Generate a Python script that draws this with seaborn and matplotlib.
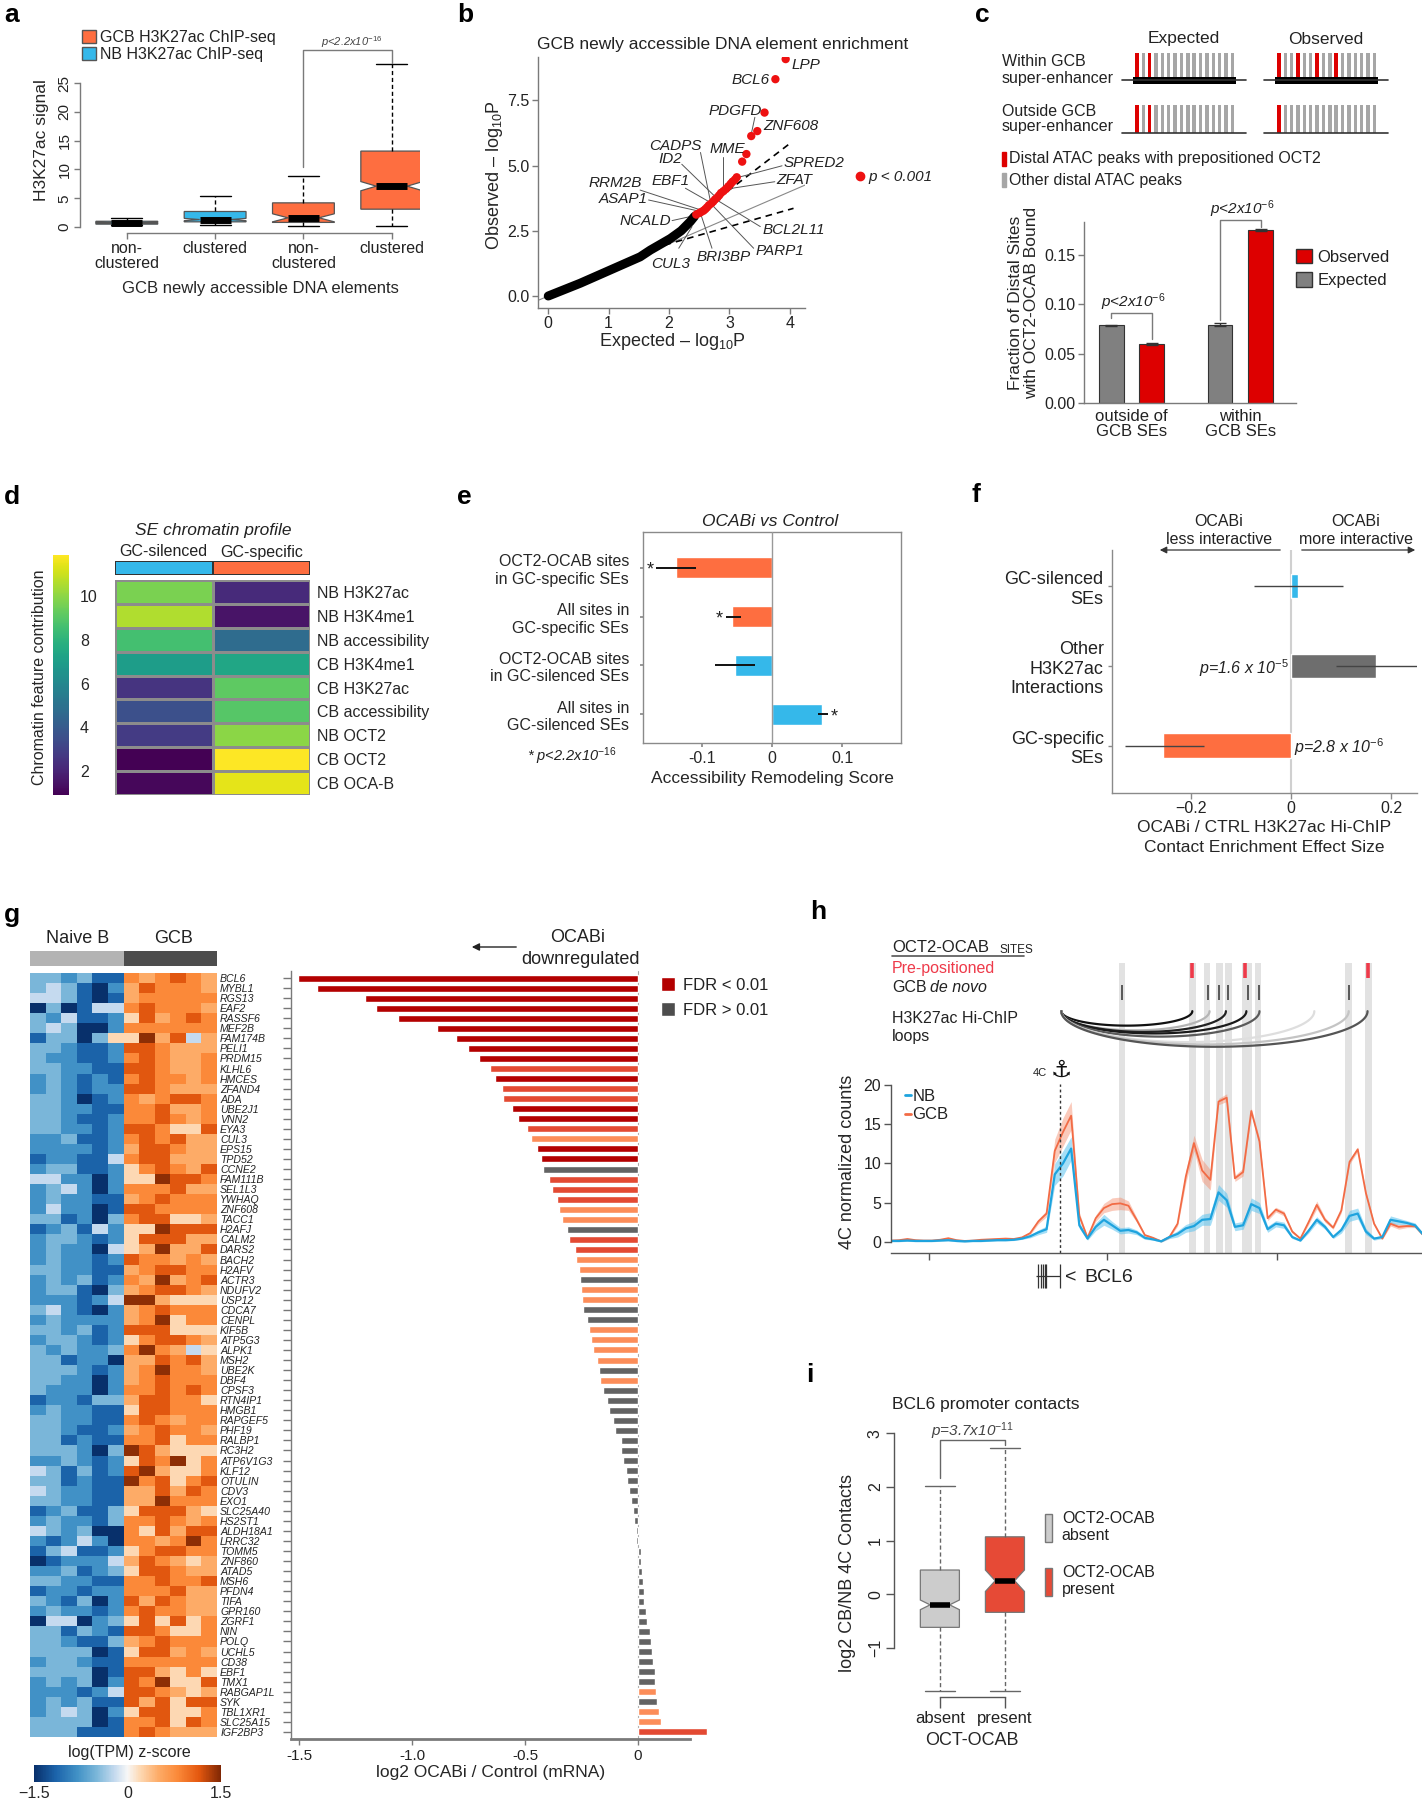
import numpy as np
import pandas as pd
import seaborn as sns
import matplotlib.pyplot as plt
from matplotlib.colors import ListedColormap, LinearSegmentedColormap
from matplotlib.patches import Patch
from matplotlib.lines import Line2D

# ---------------- data ----------------
# a: H3K27ac signal at GCB newly accessible elements (box summaries)
a_ticks = ['non-\nclustered', 'clustered', 'non-\nclustered', 'clustered']
a_cell = ['NB', 'NB', 'GCB', 'GCB']
a_whislo = [0.4, 0.3, 0.2, 0.2]
a_q1 = [0.5, 0.9, 0.8, 3.1]
a_med = [0.75, 1.3, 1.6, 7.1]
a_q3 = [1.0, 2.7, 4.2, 13.2]
a_whishi = [1.5, 5.4, 8.9, 28.3]
a_cilo = [0.7, 1.1, 0.9, 6.3]
a_cihi = [0.8, 1.5, 2.3, 7.9]

# b: QQ plot of enrichment p-values
b_exp_bulk = [0.0, 0.53, 1.03, 1.52, 1.69, 2.02, 2.2, 2.35, 2.42]
b_obs_bulk = [0.0, 0.49, 1.0, 1.5, 1.76, 2.2, 2.5, 2.85, 3.05]
b_exp_sig = [2.45, 2.5, 2.53, 2.57, 2.6, 2.63, 2.66, 2.7, 2.73, 2.76, 2.8, 2.83, 2.86,
             2.9, 2.94, 2.98, 3.02, 3.05, 3.09, 3.12, 3.21, 3.28, 3.36, 3.46, 3.58, 3.76, 3.93]
b_obs_sig = [3.12, 3.18, 3.22, 3.27, 3.33, 3.4, 3.48, 3.55, 3.62, 3.7, 3.78, 3.86, 3.95,
             4.02, 4.1, 4.2, 4.3, 4.38, 4.46, 4.55, 5.15, 5.44, 6.13, 6.32, 7.03, 8.31, 9.08]
b_band_x_hi = [1.74, 4.03]
b_band_y_hi = [1.83, 5.9]
b_band_x_lo = [1.74, 4.06]
b_band_y_lo = [1.83, 3.36]

# c: fraction of distal sites bound by OCT2-OCAB
c_region = ['outside of\nGCB SEs', 'outside of\nGCB SEs', 'within\nGCB SEs', 'within\nGCB SEs']
c_kind = ['Expected', 'Observed', 'Expected', 'Observed']
c_frac = [0.079, 0.0595, 0.0795, 0.175]
c_err = [0.0005, 0.0012, 0.0018, 0.0012]
c_n_peaks = 16
c_red_peaks = {('within', 'Expected'): [0, 2], ('within', 'Observed'): [0, 3, 6, 9],
               ('outside', 'Expected'): [0, 2], ('outside', 'Observed'): [0]}

# d: SE chromatin profile
d_features = ['NB H3K27ac', 'NB H3K4me1', 'NB accessibility', 'CB H3K4me1', 'CB H3K27ac',
              'CB accessibility', 'NB OCT2', 'CB OCT2', 'CB OCA-B']
d_silenced = [9.7, 10.6, 8.6, 7.0, 2.55, 3.6, 2.8, 0.9, 1.1]
d_specific = [2.2, 1.5, 4.75, 7.4, 9.15, 9.0, 10.0, 11.9, 11.46]

# e: accessibility remodeling score
e_labels = ['OCT2-OCAB sites\nin GC-specific SEs', 'All sites in\nGC-specific SEs',
            'OCT2-OCAB sites\nin GC-silenced SEs', 'All sites in\nGC-silenced SEs']
e_group = ['GC-specific', 'GC-specific', 'GC-silenced', 'GC-silenced']
e_score = [-0.137, -0.057, -0.053, 0.072]
e_lo = [-0.165, -0.066, -0.082, 0.065]
e_hi = [-0.109, -0.044, -0.024, 0.080]
e_signif = [True, True, False, True]

# f: Hi-ChIP contact enrichment effect size
f_labels = ['GC-silenced\nSEs', 'Other\nH3K27ac\nInteractions', 'GC-specific\nSEs']
f_effect = [0.013, 0.17, -0.255]
f_lo = [-0.073, 0.089, -0.331]
f_hi = [0.103, 0.26, -0.174]
f_pval = ['', 'p=1.6 x 10$^{-5}$', 'p=2.8 x 10$^{-6}$']

# g: OCABi downregulated genes
g_genes = ['BCL6', 'MYBL1', 'RGS13', 'EAF2', 'RASSF6', 'MEF2B', 'FAM174B', 'PELI1', 'PRDM15',
           'KLHL6', 'HMCES', 'ZFAND4', 'ADA', 'UBE2J1', 'VNN2', 'EYA3', 'CUL3', 'EPS15', 'TPD52',
           'CCNE2', 'FAM111B', 'SEL1L3', 'YWHAQ', 'ZNF608', 'TACC1', 'H2AFJ', 'CALM2', 'DARS2',
           'BACH2', 'H2AFV', 'ACTR3', 'NDUFV2', 'USP12', 'CDCA7', 'CENPL', 'KIF5B', 'ATP5G3',
           'ALPK1', 'MSH2', 'UBE2K', 'DBF4', 'CPSF3', 'RTN4IP1', 'HMGB1', 'RAPGEF5', 'PHF19',
           'RALBP1', 'RC3H2', 'ATP6V1G3', 'KLF12', 'OTULIN', 'CDV3', 'EXO1', 'SLC25A40', 'HS2ST1',
           'ALDH18A1', 'LRRC32', 'TOMM5', 'ZNF860', 'ATAD5', 'MSH6', 'PFDN4', 'TIFA', 'GPR160',
           'ZGRF1', 'NIN', 'POLQ', 'UCHL5', 'CD38', 'EBF1', 'TMX1', 'RABGAP1L', 'SYK', 'TBL1XR1',
           'SLC25A15', 'IGF2BP3']
g_lfc = [-1.504, -1.423, -1.208, -1.161, -1.061, -0.892, -0.804, -0.753, -0.704, -0.657,
         -0.631, -0.600, -0.596, -0.559, -0.530, -0.490, -0.473, -0.447, -0.429, -0.418,
         -0.394, -0.382, -0.357, -0.351, -0.337, -0.314, -0.304, -0.279, -0.276, -0.259,
         -0.255, -0.253, -0.247, -0.243, -0.227, -0.218, -0.206, -0.198, -0.179, -0.173,
         -0.169, -0.153, -0.135, -0.126, -0.112, -0.102, -0.075, -0.073, -0.065, -0.053,
         -0.047, -0.037, -0.032, -0.022, -0.018, -0.010, -0.006, 0.015, 0.016, 0.020,
         0.024, 0.026, 0.028, 0.037, 0.039, 0.053, 0.059, 0.063, 0.067, 0.076,
         0.078, 0.082, 0.084, 0.094, 0.104, 0.308]
# d = FDR < 0.01 (strong), m / l = FDR < 0.01 (weaker shades), g = FDR > 0.01
g_fdr = 'dddddddddmdmmddmlddgmmmllgmmllgllggllllglgggggggggggggggggggggggggggggglgllm'
# log(TPM) z-score levels per row: 6 naive B + 6 GCB samples (0 = -1.5 ... 9 = +1.5)
g_hm_rows = ['332311767876', '343102687776', '443101677777', '030144787776', '324112586787',
             '343002777777', '133035596846', '332112887666', '322112787667', '332211887667',
             '232121787767', '232122887666', '332012767887', '332211778667', '332112778767',
             '332212887558', '223112787866', '222212688766', '122114788666', '233112578768',
             '442202559887', '234202777866', '232211678777', '242201887777', '331203788556',
             '123142559888', '233212588866', '232204569668', '232212877676', '332211678877',
             '232312769678', '233103678876', '222124996555', '342102678777', '232222679577',
             '332312888555', '233212578876', '323223797645', '331220668786', '333212679776',
             '332202678777', '322202778787', '122133688775', '232211588777', '332211787677',
             '332112678776', '331211778577', '333203986555', '223212587957', '431312896557',
             '331211978578', '432211668687', '332211669777', '123113588865', '232213778767',
             '432300758688', '212420776797', '134112578877', '012224687656', '223123588766',
             '332211778778', '122122777866', '321302868766', '232212787766', '044023585857',
             '331321887557', '332113678777', '333301588676', '233211777777', '333301886575',
             '232302879558', '222124887656', '232311868588', '234302588557', '333301778587',
             '333111787666']
g_levels = [-1.5, -1.15, -0.8, -0.5, -0.2, 0.2, 0.5, 0.8, 1.15, 1.45]

# h: 4C-seq around BCL6 (bins), GCB and NB normalized counts with CI half-widths
h_bins = list(range(66))
h_gcb = [0.15, 0.2, 0.35, 0.2, 0.15, 0.15, 0.25, 0.45, 0.2, 0.1, 0.15, 0.25, 0.3, 0.35,
         0.4, 0.35, 0.55, 1.1, 2.6, 3.6, 11.6, 14.0, 16.1, 3.3, 0.5, 3.0, 4.3, 4.8, 4.9,
         4.6, 2.8, 0.85, 0.5, 0.05, 0.6, 2.3, 8.3, 12.6, 9.1, 7.9, 17.9, 18.4, 8.1, 8.9,
         16.7, 12.8, 3.0, 4.1, 3.6, 1.3, 0.4, 2.5, 4.7, 2.8, 1.8, 4.0, 10.2, 11.8, 6.2,
         2.3, 0.4, 2.3, 1.9, 2.0, 2.0, 0.85]
h_gcb_err = [0.1] * 17 + [0.2, 0.3, 0.4, 1.5, 1.8, 1.8, 0.4, 0.15, 0.4, 0.6, 0.8, 0.8,
                          0.6, 0.3, 0.15, 0.1, 0.1, 0.15, 0.3, 0.8, 1.0, 1.4, 1.3, 0.4,
                          0.5, 0.4, 0.5, 0.4, 0.4, 0.3, 0.3, 0.3, 0.2, 0.1, 0.3, 0.5, 0.3,
                          0.2, 0.3, 0.3, 0.3, 0.3, 0.2, 0.1, 0.3, 0.3, 0.2, 0.2, 0.2]
h_nb = [0.1, 0.1, 0.15, 0.1, 0.1, 0.1, 0.15, 0.2, 0.1, 0.05, 0.1, 0.1, 0.15, 0.2,
        0.2, 0.25, 0.4, 0.7, 1.2, 1.6, 8.6, 10.0, 11.9, 2.1, 0.4, 1.9, 2.8, 2.1, 1.4,
        1.5, 1.2, 0.5, 0.3, 0.05, 0.6, 1.0, 1.7, 2.0, 2.8, 2.9, 6.3, 5.3, 1.9, 2.1,
        4.8, 4.3, 1.6, 2.3, 2.1, 0.6, 0.15, 1.4, 2.8, 1.9, 0.6, 1.5, 3.3, 3.6, 1.3,
        0.4, 0.6, 2.8, 2.6, 2.4, 2.1, 0.9]
h_nb_err = [0.1] * 17 + [0.2, 0.3, 0.4, 1.4, 1.6, 1.5, 0.4, 0.2, 0.5, 0.7, 0.5, 0.4,
                         0.4, 0.3, 0.2, 0.1, 0.1, 0.2, 0.4, 0.5, 0.6, 0.7, 0.8, 1.0,
                         0.9, 0.5, 0.5, 0.8, 0.7, 0.4, 0.4, 0.4, 0.2, 0.1, 0.3, 0.4, 0.3,
                         0.2, 0.4, 0.7, 0.7, 0.4, 0.2, 0.2, 0.5, 0.4, 0.3, 0.3, 0.2]
h_anchor = 20.63
h_ticks = [4.66, 26.36, 47.14]
h_stripes = [28.2, 36.84, 38.59, 40.15, 41.21, 43.45, 44.81, 55.87, 58.3]
h_stripe_w = [0.83, 0.83, 0.83, 0.83, 0.83, 1.17, 0.83, 0.83, 0.83]
h_prepositioned = [36.8, 43.2, 58.3]
h_denovo = [28.25, 38.7, 40.05, 41.1, 43.6, 44.9, 55.9]
h_loop_end = [36.8, 38.9, 40.9, 43.4, 45.0, 51.7, 55.9, 58.2]
h_loop_bottom = [27.6, 27.0, 26.8, 26.6, 26.2, 25.5, 25.2, 24.9]
h_loop_shade = ['#111111', '#b5b5b5', '#222222', '#1a1a1a', '#5a5a5a', '#dedede', '#c4c4c4', '#555555']
h_bcl6_exons = [18.0, 18.3, 18.55, 18.75, 18.95]

# i: BCL6 promoter contacts
i_groups = ['absent', 'present']
i_whislo = [-1.81, -1.81]
i_q1 = [-0.62, -0.34]
i_med = [-0.2, 0.25]
i_q3 = [0.45, 1.07]
i_whishi = [2.02, 2.72]
i_cilo = [-0.29, 0.05]
i_cihi = [-0.11, 0.45]

# ---------------- style ----------------
sns.set_theme(style='ticks')
plt.rcParams['font.family'] = ['Liberation Sans', 'DejaVu Sans']
plt.rcParams['mathtext.fontset'] = 'custom'
plt.rcParams['mathtext.rm'] = 'Liberation Sans'
plt.rcParams['mathtext.it'] = 'Liberation Sans:italic'
plt.rcParams['text.color'] = '#222222'

BLUE = '#35b8ea'
ORANGE = '#fe6e40'
GRAY_AX = '#7a7a7a'

W, H = 1422, 1800
fig = plt.figure(figsize=(W / 100, H / 100), dpi=100)


def add_ax(x0, y0, x1, y1):
    return fig.add_axes([x0 / W, 1 - y1 / H, (x1 - x0) / W, (y1 - y0) / H])


def fx(x):
    return x / W


def fy(y):
    return 1 - y / H


def ftext(x, y, s, **kw):
    kw.setdefault('ha', 'center')
    kw.setdefault('va', 'center')
    fig.text(fx(x), fy(y), s, **kw)


def panel(x, y, s):
    ftext(x, y, s, fontsize=19, fontweight='bold', ha='left', color='black')


def ylab(ax, x, y, nlines=1):
    # x, y: centre of the rotated label in pixels
    ax.yaxis.set_label_coords(fx(x + 9 * nlines), fy(y), transform=fig.transFigure)


def xlab(ax, x, y, nlines=1):
    ax.xaxis.set_label_coords(fx(x), fy(y - 9 * nlines), transform=fig.transFigure)


def open_axes(ax, color=GRAY_AX, size=11):
    for s in ['top', 'right']:
        ax.spines[s].set_visible(False)
    for s in ['left', 'bottom']:
        ax.spines[s].set_color(color)
        ax.spines[s].set_linewidth(1)
    ax.tick_params(color=color, length=4, width=1, labelsize=size, labelcolor='#222222', pad=2)


# ---------------- a ----------------
panel(4, 15, 'a')
ax = add_ax(80, 55, 420, 233)
a_stats = [dict(med=m, q1=q1, q3=q3, whislo=lo, whishi=hi, cilo=cl, cihi=ch, fliers=[])
           for m, q1, q3, lo, hi, cl, ch in zip(a_med, a_q1, a_q3, a_whislo, a_whishi, a_cilo, a_cihi)]
bp = ax.bxp(a_stats, positions=range(4), widths=0.7, shownotches=True, patch_artist=True, showfliers=False,
            boxprops=dict(edgecolor='#555555', linewidth=0.9),
            whiskerprops=dict(linestyle=(0, (3, 2)), color='black', linewidth=1),
            capprops=dict(color='black', linewidth=1),
            medianprops=dict(color='black', linewidth=5, solid_capstyle='butt'))
for patch, cell in zip(bp['boxes'], a_cell):
    patch.set_facecolor(ORANGE if cell == 'GCB' else BLUE)
ax.set_xlim(-0.53, 3.32)
ax.set_ylim(-1.04, 29.9)
open_axes(ax)
ax.spines['left'].set_bounds(0, 25)
ax.spines['bottom'].set_bounds(0, 3)
ax.set_yticks([0, 5, 10, 15, 20, 25])
ax.tick_params(axis='y', labelrotation=90)
for lab in ax.get_yticklabels():
    lab.set_va('center')
ax.set_xticks(range(4))
ax.set_xticklabels(a_ticks, fontsize=11.5, linespacing=1.0)
ax.set_ylabel('H3K27ac signal', fontsize=12.5)
ylab(ax, 40, 140)
ax.set_xlabel('GCB newly accessible DNA elements', fontsize=12)
xlab(ax, 260, 290)
ax.plot([2, 2, 3, 3], [10.4, 30.7, 30.7, 28.5], color=GRAY_AX, lw=1, clip_on=False)
ftext(352, 42, 'p<2.2x10$^{-16}$', fontsize=8, style='italic', color='#444444')
ax.legend(handles=[Patch(fc=ORANGE, ec='#555555'), Patch(fc=BLUE, ec='#555555')],
          labels=['GCB H3K27ac ChIP-seq', 'NB H3K27ac ChIP-seq'], loc='upper left',
          bbox_to_anchor=(fx(82), fy(30)), bbox_transform=fig.transFigure, frameon=False,
          fontsize=11.5, handlelength=0.85, handleheight=0.85, handletextpad=0.3,
          labelspacing=0.15, borderpad=0, borderaxespad=0)

# ---------------- b ----------------
panel(457, 15, 'b')
ax = add_ax(538, 57, 805, 308)
ax.axline((0, 0), slope=1, color='#888888', lw=0.8, zorder=1)
ax.plot(b_band_x_hi, b_band_y_hi, color='black', ls=(0, (4, 3)), lw=1.2)
ax.plot(b_band_x_lo, b_band_y_lo, color='black', ls=(0, (4, 3)), lw=1.2)
sns.lineplot(x=b_exp_bulk, y=b_obs_bulk, sort=False, color='black', lw=6.5, ax=ax,
             solid_capstyle='round', zorder=3)
sns.scatterplot(x=b_exp_sig, y=b_obs_sig, color='#ee1111', s=36, edgecolor='none', ax=ax, zorder=4)
ax.set_xlim(-0.17, 4.25)
ax.set_ylim(-0.46, 9.16)
open_axes(ax, size=11.5)
ax.set_yticks([0, 2.5, 5, 7.5])
ax.set_yticklabels(['0.0', '2.5', '5.0', '7.5'])
ax.set_xticks([0, 1, 2, 3, 4])
ax.set_ylabel('Observed – log$_{10}$P', fontsize=13)
ylab(ax, 496, 175)
ax.set_xlabel('Expected – log$_{10}$P', fontsize=13)
xlab(ax, 672, 340)
ftext(723, 45, 'GCB newly accessible DNA element enrichment', fontsize=12.5)
b_annot = [('LPP', 4.03, 8.85, 'left', None), ('BCL6', 3.66, 8.28, 'right', None),
           ('PDGFD', 3.53, 7.09, 'right', (3.42, 6.85, 3.36, 6.2)),
           ('ZNF608', 3.56, 6.51, 'left', None),
           ('CADPS', 2.10, 5.75, 'center', (2.52, 5.5, 2.68, 3.68)),
           ('MME', 2.96, 5.63, 'center', (2.89, 5.34, 2.89, 4.06)),
           ('ID2', 2.02, 5.25, 'center', (2.21, 5.05, 2.82, 3.68)),
           ('SPRED2', 3.89, 5.1, 'left', (3.87, 4.99, 3.15, 4.55)),
           ('ZFAT', 3.77, 4.44, 'left', (3.75, 4.38, 2.93, 4.09)),
           ('EBF1', 2.02, 4.41, 'center', (2.27, 4.13, 2.71, 3.55)),
           ('RRM2B', 1.11, 4.33, 'center', (1.52, 4.06, 2.52, 3.3)),
           ('ASAP1', 1.24, 3.72, 'center', (1.66, 3.68, 2.54, 3.23)),
           ('NCALD', 1.61, 2.87, 'center', (2.05, 2.89, 2.46, 3.1)),
           ('BCL2L11', 3.54, 2.53, 'left', (3.51, 2.66, 2.79, 3.68)),
           ('PARP1', 3.43, 1.72, 'left', (3.40, 1.83, 2.74, 3.42)),
           ('BRI3BP', 2.9, 1.49, 'center', (2.71, 1.83, 2.52, 3.17)),
           ('CUL3', 2.02, 1.23, 'center', (2.16, 1.83, 2.38, 2.66))]
for name, tx, ty, ha, seg in b_annot:
    ax.text(tx, ty, name, ha=ha, va='center', fontsize=11, style='italic', color='#222222', zorder=5)
    if seg is not None:
        ax.plot([seg[0], seg[2]], [seg[1], seg[3]], color='#555555', lw=0.7, zorder=2)
ax.legend(handles=[Line2D([], [], marker='o', color='#ee1111', ls='', ms=6)], labels=['p < 0.001'],
          loc='center left', bbox_to_anchor=(fx(852), fy(177)), bbox_transform=fig.transFigure,
          frameon=False, handletextpad=0.1, handlelength=1.0, borderpad=0, borderaxespad=0,
          prop={'style': 'italic', 'size': 11})

# ---------------- c ----------------
panel(975, 15, 'c')
ftext(1184, 39, 'Expected', fontsize=12.5)
ftext(1326, 39, 'Observed', fontsize=12.5)
ftext(1002, 62, 'Within GCB', fontsize=11.5, ha='left')
ftext(1002, 78, 'super-enhancer', fontsize=11.5, ha='left')
ftext(1002, 112, 'Outside GCB', fontsize=11.5, ha='left')
ftext(1002, 127, 'super-enhancer', fontsize=11.5, ha='left')
axs = add_ax(1115, 45, 1400, 140)
axs.set_xlim(1115, 1400)
axs.set_ylim(140, 45)
axs.axis('off')
track_x0 = {'Expected': 1122, 'Observed': 1264}
track_base = {'within': 80, 'outside': 133}
track_top = {'within': 53, 'outside': 105}
for (row, kind), reds in c_red_peaks.items():
    x0 = track_x0[kind]
    axs.plot([x0, x0 + 124], [track_base[row]] * 2, color='#333333', lw=1.2)
    if row == 'within':
        axs.fill_between([x0 + 11, x0 + 114], 77, 84, color='black', lw=0)
    for k in range(c_n_peaks):
        px = x0 + 15 + k * 6.35
        axs.fill_between([px - 1.7, px + 1.7], track_top[row], track_base[row] - (3 if row == 'within' else 0),
                         color='#dd0000' if k in reds else '#a6a6a6', lw=0)
ftext(1009, 159, 'Distal ATAC peaks with prepositioned OCT2', fontsize=11.5, ha='left')
ftext(1009, 180, 'Other distal ATAC peaks', fontsize=11.5, ha='left')
fig.patches.append(plt.Rectangle((fx(1002), fy(166)), 4 / W, 14 / H, color='#dd0000', transform=fig.transFigure))
fig.patches.append(plt.Rectangle((fx(1002), fy(187)), 4 / W, 14 / H, color='#a6a6a6', transform=fig.transFigure))

ax = add_ax(1084, 222, 1296, 403)
c_df = pd.DataFrame({'region': c_region, 'kind': c_kind, 'frac': c_frac, 'err': c_err})
sns.barplot(data=c_df, x='region', y='frac', hue='kind', hue_order=['Expected', 'Observed'],
            palette={'Expected': '#808080', 'Observed': '#dd0000'}, width=0.75, gap=0.39,
            saturation=1, edgecolor='#333333', linewidth=0.8, errorbar=None, legend=False, ax=ax)
for patch in ax.patches:
    h = patch.get_height()
    if h <= 0:
        continue
    row = c_df.iloc[(c_df['frac'] - h).abs().argmin()]
    ax.errorbar(patch.get_x() + patch.get_width() / 2, h, yerr=row['err'], color='#333333',
                capsize=4, lw=1, capthick=1)
ax.set_xlim(-0.436, 1.51)
ax.set_ylim(0, 0.1834)
open_axes(ax, size=11.5)
ax.set_yticks([0, 0.05, 0.10, 0.15])
ax.set_yticklabels(['0.00', '0.05', '0.10', '0.15'])
ax.tick_params(axis='x', length=0, pad=4)
ax.set_xticks([0, 1])
ax.set_xticklabels(['outside of\nGCB SEs', 'within\nGCB SEs'], fontsize=12, linespacing=1.05)
ax.set_xlabel('')
ax.set_ylabel('Fraction of Distal Sites\nwith OCT2-OCAB Bound', fontsize=12.5, linespacing=1.1)
ylab(ax, 1021, 303, nlines=2)
ax.plot([-0.188, -0.188, 0.188, 0.188], [0.086, 0.0912, 0.0912, 0.0649], color=GRAY_AX, lw=1)
ax.plot([0.812, 0.812, 1.188, 1.188], [0.0841, 0.1855, 0.1855, 0.1787], color=GRAY_AX, lw=1, clip_on=False)
ax.text(0.02, 0.1024, 'p<2x10$^{-6}$', ha='center', va='center', fontsize=11, style='italic')
ax.text(1.02, 0.1966, 'p<2x10$^{-6}$', ha='center', va='center', fontsize=11, style='italic')
ax.legend(handles=[Patch(fc='#dd0000', ec='#333333'), Patch(fc='#808080', ec='#333333')],
          labels=['Observed', 'Expected'], loc='upper left', bbox_to_anchor=(fx(1296), fy(249)),
          bbox_transform=fig.transFigure, frameon=False, fontsize=12, handlelength=0.95,
          handleheight=0.95, handletextpad=0.35, labelspacing=0.45, borderpad=0, borderaxespad=0)

# ---------------- d ----------------
panel(4, 497, 'd')
ftext(213, 530, 'SE chromatin profile', fontsize=12.5, style='italic')
ftext(163, 552, 'GC-silenced', fontsize=11.5)
ftext(262, 552, 'GC-specific', fontsize=11.5)
ax = add_ax(115, 561, 310, 575)
sns.heatmap(np.array([[0, 1]]), cmap=ListedColormap([BLUE, ORANGE]), cbar=False, linewidths=1.2,
            linecolor='#333333', xticklabels=False, yticklabels=False, ax=ax)
ax = add_ax(115, 580, 310, 795)
d_df = pd.DataFrame({'GC-silenced': d_silenced, 'GC-specific': d_specific}, index=d_features)
sns.heatmap(d_df, cmap='viridis', vmin=0.9, vmax=11.9, cbar=False, linewidths=1,
            linecolor='#8c8c8c', xticklabels=False, yticklabels=True, ax=ax)
ax.yaxis.tick_right()
ax.tick_params(axis='y', length=0, pad=5, labelsize=11.5, labelrotation=0)
cax = add_ax(53, 555, 69, 795)
cb = fig.colorbar(ax.collections[0], cax=cax)
cb.outline.set_visible(False)
cb.set_ticks([2, 4, 6, 8, 10])
cax.tick_params(length=0, labelsize=11.5, pad=8)
cax.set_ylabel('Chromatin feature contribution', fontsize=11.5)
cax.yaxis.set_label_position('left')
ylab(cax, 38, 677)

# ---------------- e ----------------
panel(457, 497, 'e')
ax = add_ax(643, 532, 901, 743)
e_df = pd.DataFrame({'label': e_labels, 'score': e_score, 'group': e_group})
sns.barplot(data=e_df, x='score', y='label', hue='group', dodge=False, saturation=1,
            palette={'GC-specific': ORANGE, 'GC-silenced': BLUE}, width=0.43, legend=False,
            errorbar=None, ax=ax)
ax.axvline(0, color='#999999', lw=1, zorder=3)
ax.hlines(range(4), e_lo, e_hi, color='#111111', lw=1.4, zorder=4)
for k, sig in enumerate(e_signif):
    if sig:
        if e_score[k] < 0:
            ax.text(e_lo[k] - 0.004, k + 0.05, '*', ha='right', va='center', fontsize=13)
        else:
            ax.text(e_hi[k] + 0.004, k + 0.05, '*', ha='left', va='center', fontsize=13)
ax.set_xlim(-0.184, 0.184)
ax.set_ylim(3.59, -0.736)
for s in ax.spines.values():
    s.set_color('#8a8a8a')
    s.set_linewidth(1)
ax.tick_params(color='#8a8a8a', length=3, labelsize=11.5, pad=3)
ax.tick_params(axis='y', labelsize=11.5, pad=8, length=2)
ax.set_xticks([-0.1, 0, 0.1])
ax.set_xticklabels(['-0.1', '0', '0.1'])
ax.set_ylabel('')
ax.set_xlabel('Accessibility Remodeling Score', fontsize=12.5)
xlab(ax, 772, 780)
ftext(770, 522, 'OCABi vs Control', fontsize=12.5, style='italic')
ftext(572, 756, '* p<2.2x10$^{-16}$', fontsize=10.5, style='italic')

# ---------------- f ----------------
panel(972, 495, 'f')
ax = add_ax(1112, 550, 1417, 793)
f_df = pd.DataFrame({'label': f_labels, 'effect': f_effect})
sns.barplot(data=f_df, x='effect', y='label', hue='label', palette=[BLUE, '#6e6e6e', ORANGE],
            saturation=1, width=0.31, legend=False, errorbar=None, ax=ax)
ax.axvline(0, color='#d0d0d0', lw=1.5, zorder=0)
ax.hlines(range(3), f_lo, f_hi, color='#444444', lw=1, zorder=4)
ax.set_xlim(-0.357, 0.251)
ax.set_ylim(2.59, -0.45)
open_axes(ax, color='#8a8a8a', size=11.5)
ax.tick_params(axis='y', labelsize=13, length=3, pad=3)
ax.set_xticks([-0.2, 0, 0.2])
ax.set_xticklabels(['−0.2', '0', '0.2'])
ax.set_ylabel('')
ax.set_xlabel('OCABi / CTRL H3K27ac Hi-ChIP\nContact Enrichment Effect Size', fontsize=12.5,
              linespacing=1.4)
xlab(ax, 1264, 838, nlines=2)
ax.text(-0.004, 1.03, f_pval[1], ha='right', va='center', fontsize=11.5, style='italic')
ax.text(0.006, 2.02, f_pval[2], ha='left', va='center', fontsize=11.5, style='italic')
ftext(1219, 521, 'OCABi', fontsize=11.5)
ftext(1219, 539, 'less interactive', fontsize=11.5)
ftext(1356, 521, 'OCABi', fontsize=11.5)
ftext(1356, 539, 'more interactive', fontsize=11.5)
ax.annotate('', xy=(fx(1157), fy(550)), xytext=(fx(1283), fy(550)), xycoords='figure fraction',
            arrowprops=dict(arrowstyle='-|>', color='#333333', lw=0.9, mutation_scale=10))
ax.annotate('', xy=(fx(1418), fy(550)), xytext=(fx(1299), fy(550)), xycoords='figure fraction',
            arrowprops=dict(arrowstyle='-|>', color='#333333', lw=0.9, mutation_scale=10))

# ---------------- g ----------------
panel(4, 915, 'g')
ftext(78, 939, 'Naive B', fontsize=13)
ftext(174, 939, 'GCB', fontsize=13)
ax = add_ax(30, 951, 217, 966)
sns.heatmap(np.array([[0, 1]]), cmap=ListedColormap(['#b3b3b3', '#4d4d4d']), cbar=False,
            xticklabels=False, yticklabels=False, ax=ax)
cmap_bo = LinearSegmentedColormap.from_list('bo', [
    (0.0, '#08306b'), (0.117, '#1c64ab'), (0.233, '#4292c6'), (0.333, '#7ab6d9'),
    (0.433, '#c6dbef'), (0.5, '#f7f7f7'), (0.567, '#fdd9b4'), (0.667, '#fdab67'),
    (0.767, '#fb8a3a'), (0.883, '#e4580f'), (1.0, '#7f2704')])
hm = np.array([[g_levels[int(c)] for c in row] for row in g_hm_rows])
ax = add_ax(30, 973, 217, 1737)
sns.heatmap(hm, cmap=cmap_bo, vmin=-1.5, vmax=1.5, cbar=False, xticklabels=False,
            yticklabels=False, ax=ax)
cax = add_ax(34, 1765, 221, 1782)
cb = fig.colorbar(ax.collections[0], cax=cax, orientation='horizontal')
cb.outline.set_visible(False)
cb.set_ticks([-1.5, 0, 1.5])
cb.set_ticklabels(['−1.5', '0', '1.5'])
cax.tick_params(length=0, labelsize=11.5, pad=3)
ftext(129, 1753, 'log(TPM) z-score', fontsize=11.5)

ax = add_ax(291, 971, 710, 1739)
g_palette = {'d': '#b30000', 'm': '#e34a33', 'l': '#fc8d59', 'g': '#636363'}
sns.barplot(x=g_lfc, y=g_genes, hue=g_genes, dodge=False, palette=[g_palette[c] for c in g_fdr],
            saturation=1, width=0.7, legend=False, errorbar=None, ax=ax, orient='y')
ax.axvline(0, color='#aaaaaa', lw=0.8, zorder=0)
ax.set_xlim(-1.537, 0.32)
ax.set_ylim(75.7, -0.7)
open_axes(ax, size=11)
ax.spines['bottom'].set_bounds(-1.537, 0.231)
ax.spines['bottom'].set_linewidth(2)
ax.set_yticks(range(len(g_genes)))
ax.set_yticklabels(g_genes, fontsize=7.6, style='italic', ha='left')
ax.tick_params(axis='y', length=6, pad=45, color='#777777')
ax.set_xticks([-1.5, -1.0, -0.5, 0])
ax.set_xticklabels(['-1.5', '-1.0', '-0.5', '0'])
ax.tick_params(axis='x', labelsize=11, length=4, pad=3)
ax.set_xlabel('log2 OCABi / Control (mRNA)', fontsize=12.5)
xlab(ax, 491, 1774)
ftext(578, 938, 'OCABi', fontsize=13)
ftext(581, 960, 'downregulated', fontsize=13)
ax.annotate('', xy=(fx(469), fy(947)), xytext=(fx(519), fy(947)), xycoords='figure fraction',
            arrowprops=dict(arrowstyle='-|>', color='#222222', lw=1, mutation_scale=11))
ax.legend(handles=[Patch(fc='#b30000'), Patch(fc='#4d4d4d')], labels=['FDR < 0.01', 'FDR > 0.01'],
          loc='upper left', bbox_to_anchor=(fx(661), fy(977)), bbox_transform=fig.transFigure,
          frameon=False, fontsize=12, handlelength=0.85, handleheight=0.95, handletextpad=0.45,
          labelspacing=0.55, borderpad=0, borderaxespad=0)

# ---------------- h ----------------
panel(810, 912, 'h')
ftext(892, 948, 'OCT2-OCAB', fontsize=12, ha='left')
ftext(1000, 950, 'SITES', fontsize=8.5, ha='left')
fig.add_artist(Line2D([fx(892), fx(1024)], [fy(956), fy(956)], color='#555555', lw=1.2))
ftext(892, 968, 'Pre-positioned', fontsize=11.5, ha='left', color='#ee3a4a')
ftext(892, 988, 'GCB', fontsize=11.5, ha='left')
ftext(930, 988, 'de novo', fontsize=11.5, ha='left', style='italic')
ftext(892, 1018, 'H3K27ac Hi-ChIP', fontsize=11.5, ha='left')
ftext(892, 1037, 'loops', fontsize=11.5, ha='left')

ax = add_ax(891, 963, 1422, 1253)
for xc, w in zip(h_stripes, h_stripe_w):
    ax.axvspan(xc - w / 2, xc + w / 2, color='#e2e2e2', lw=0, zorder=0)
ax.vlines(h_prepositioned, 33.7, 35.6, color='#ee3a4a', lw=2.6)
ax.vlines(h_denovo, 30.9, 32.8, color='#333333', lw=1.1)
h_loop_start, h_loop_top = 20.8, 29.45
for end, bottom, shade in zip(h_loop_end, h_loop_bottom, h_loop_shade):
    t = np.linspace(0, np.pi, 80)
    ax.plot(h_loop_start + (end - h_loop_start) * (1 - np.cos(t)) / 2,
            h_loop_top - (h_loop_top - bottom) * np.sin(t), color=shade, lw=1.6)
gcb_lo = [v - e for v, e in zip(h_gcb, h_gcb_err)]
gcb_hi = [v + e for v, e in zip(h_gcb, h_gcb_err)]
nb_lo = [v - e for v, e in zip(h_nb, h_nb_err)]
nb_hi = [v + e for v, e in zip(h_nb, h_nb_err)]
ax.fill_between(h_bins, gcb_lo, gcb_hi, color='#f58a6a', alpha=0.45, lw=0)
ax.fill_between(h_bins, nb_lo, nb_hi, color='#5cc3ef', alpha=0.55, lw=0)
sns.lineplot(x=h_bins, y=h_gcb, color='#f26b45', lw=1.3, ax=ax)
sns.lineplot(x=h_bins, y=h_nb, color='#1ea3de', lw=1.6, ax=ax)
ax.vlines(h_anchor, -1.44, 20.2, color='#333333', lw=1, linestyles=(0, (2, 2)))
ax.text(h_anchor + 0.2, 21.8, '⚓', fontsize=17, ha='center', va='center', color='#111111')
ax.text(18.2, 21.5, '4C', fontsize=8, ha='center', va='center')
ax.set_xlim(0, 64.85)
ax.set_ylim(-1.44, 35.6)
open_axes(ax, color='#555555', size=11.5)
ax.spines['left'].set_bounds(0, 20)
ax.set_yticks([0, 5, 10, 15, 20])
ax.set_xticks(h_ticks)
ax.set_xticklabels([])
ax.tick_params(axis='both', length=5)
ax.set_ylabel('4C normalized counts', fontsize=13)
ylab(ax, 847, 1162)
ax.hlines(-4.4, h_bcl6_exons[0] - 0.3, h_anchor, color='#333333', lw=0.9, clip_on=False)
ax.vlines(h_bcl6_exons + [h_anchor], -2.9, -5.9, color='#333333', lw=0.9, clip_on=False)
ax.text(21.3, -4.6, '<', fontsize=14, ha='left', va='center')
ax.text(23.6, -4.6, 'BCL6', fontsize=14, ha='left', va='center')
ax.legend(handles=[Line2D([], [], color='#1ea3de', lw=2), Line2D([], [], color='#f26b45', lw=2)],
          labels=['NB', 'GCB'], loc='upper left', bbox_to_anchor=(fx(905), fy(1089)),
          bbox_transform=fig.transFigure, frameon=False, fontsize=12, handlelength=0.35,
          handletextpad=0.1, labelspacing=0.2, borderpad=0, borderaxespad=0)

# ---------------- i ----------------
panel(806, 1375, 'i')
ax = add_ax(894, 1420, 1070, 1697)
i_stats = [dict(med=m, q1=q1, q3=q3, whislo=lo, whishi=hi, cilo=cl, cihi=ch, fliers=[])
           for m, q1, q3, lo, hi, cl, ch in zip(i_med, i_q1, i_q3, i_whislo, i_whishi, i_cilo, i_cihi)]
bp = ax.bxp(i_stats, positions=[0, 1], widths=0.6, capwidths=0.46, shownotches=True, patch_artist=True,
            showfliers=False, boxprops=dict(edgecolor='#777777', linewidth=0.9),
            whiskerprops=dict(linestyle=(0, (3, 2)), color='#666666', linewidth=1),
            capprops=dict(color='#666666', linewidth=1),
            medianprops=dict(color='black', linewidth=4, solid_capstyle='butt'))
for patch, col in zip(bp['boxes'], ['#cccccc', '#e64a36']):
    patch.set_facecolor(col)
ax.set_xlim(-0.705, 2.0)
ax.set_ylim(-1.92, 3.25)
open_axes(ax, color='#555555', size=11.5)
ax.spines['left'].set_bounds(-1, 3)
ax.spines['bottom'].set_bounds(0, 1)
ax.set_yticks([-1, 0, 1, 2, 3])
ax.tick_params(axis='y', labelrotation=90, length=6)
for lab in ax.get_yticklabels():
    lab.set_va('center')
ax.set_xticks([0, 1])
ax.set_xticklabels(i_groups, fontsize=12)
ax.tick_params(axis='x', length=8, pad=2)
ax.set_ylabel('log2 CB/NB 4C Contacts', fontsize=13)
ylab(ax, 847, 1573)
ax.set_xlabel('OCT-OCAB', fontsize=13)
xlab(ax, 972, 1741)
ax.plot([0, 0, 1, 1], [2.17, 2.87, 2.87, 2.78], color='#666666', lw=1)
ax.text(0.5, 3.05, 'p=3.7x10$^{-11}$', ha='center', va='center', fontsize=11, style='italic',
        color='#444444')
ftext(986, 1405, 'BCL6 promoter contacts', fontsize=12.5)
ax.legend(handles=[Patch(fc='#cccccc', ec='#777777'), Patch(fc='#e64a36', ec='#777777')],
          labels=['OCT2-OCAB\nabsent', 'OCT2-OCAB\npresent'], loc='upper left',
          bbox_to_anchor=(fx(1045), fy(1511)), bbox_transform=fig.transFigure, frameon=False,
          fontsize=11.5, handlelength=0.45, handleheight=2.3, handletextpad=0.6,
          labelspacing=1.35, borderpad=0, borderaxespad=0)

fig.savefig('out.png', dpi=100)
